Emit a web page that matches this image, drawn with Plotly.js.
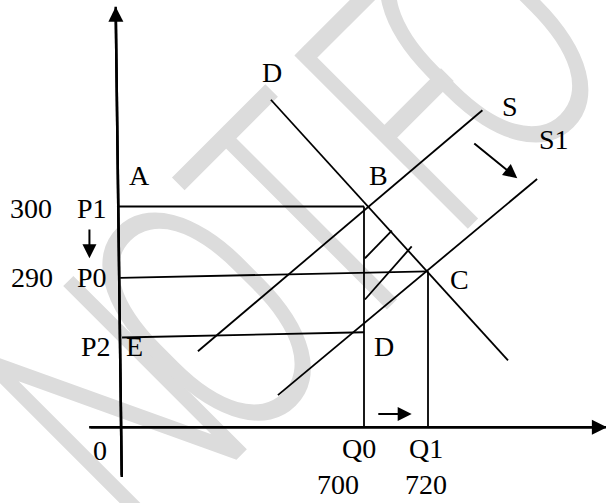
<!DOCTYPE html>
<html>
<head>
<meta charset="utf-8">
<script src="https://cdn.plot.ly/plotly-3.0.1.min.js"></script>
<style>
  html, body { margin: 0; padding: 0; background: #ffffff; }
  #chart { width: 606px; height: 503px; }
</style>
</head>
<body>
<div id="chart"></div>
<script>
// ---- Diagram data (quantity on x, price on y; axes are "not to scale") ----
const qValues = [700, 720];            // Q0, Q1
const qLabels = ['Q0', 'Q1'];
const pValues = [300, 290];            // P1, P0
const pLabels = ['300', '290'];

// Axis lines (broken origin)
const yAxisQ = [624.3, 622.4];
const yAxisP = [258.7, 330.5];
const xAxisQ = [614.1, 775.9];
const xAxisP = [266.3, 266.3];

// Demand and supply curves
const demandQ  = [670.9, 745.0];
const demandP  = [316.3, 276.5];
const supplyQ  = [648.1, 737.0];
const supplyP  = [277.9, 314.7];
const supply1Q = [673.1, 754.1];
const supply1P = [271.2, 304.2];

// Guide lines
const p1GuideQ = [622.8, 700];  const p1GuideP = [300, 300];
const p0GuideQ = [623.8, 720];  const p0GuideP = [289.1, 290.1];
const p2GuideQ = [624.4, 700];  const p2GuideP = [280.0, 280.8];
const q0GuideQ = [700, 700];    const q0GuideP = [300, 266.3];
const q1GuideQ = [720, 720];    const q1GuideP = [290.1, 266.3];

// Hatch strokes between demand and Q0
const hatch1Q = [700.3, 708.7]; const hatch1P = [292.1, 296.3];
const hatch2Q = [700.3, 714.9]; const hatch2P = [285.8, 293.9];

// Shift arrows (tail -> tip)
const priceArrowQ = [614.2, 614.2]; const priceArrowP = [296.7, 292.1];
const qtyArrowQ   = [704.0, 714.9]; const qtyArrowP   = [268.3, 268.3];
const shiftArrowQ = [734.0, 747.9]; const shiftArrowP = [309.8, 304.3];

// Text labels
const labelText = ['300','P1','290','P0','P2','E','0','A','D','B','S','S1','C','D','Q0','Q1','700','720'];
const labelQ    = [596.0, 614.9, 596.3, 615.0, 616.1, 628.3, 617.5, 629.7, 671.3, 704.4, 745.6, 759.4, 729.8, 706.3, 698.4, 719.5, 691.9, 719.4];
const labelP    = [299.7, 299.7, 289.2, 289.2, 278.6, 278.6, 262.7, 304.7, 320.5, 304.7, 315.3, 310.2, 288.9, 278.6, 263.1, 263.1, 257.6, 257.6];

// Background watermark letters (paper fractions of their centres)
const wmLetters = ['N', 'O', 'T', 'F', 'O'];
const wmX = [0.166, 0.317, 0.480, 0.659, 0.775];
const wmY = [0.218, 0.399, 0.596, 0.811, 0.952];

// ---- Build traces ----
function seg(q, p, w) {
  return { x: q, y: p, type: 'scatter', mode: 'lines',
           line: { color: '#000000', width: w }, hoverinfo: 'skip', showlegend: false,
           cliponaxis: false };
}
const traces = [
  seg(yAxisQ, yAxisP, 2.5),
  seg(xAxisQ, xAxisP, 2.5),
  seg(demandQ, demandP, 1.8),
  seg(supplyQ, supplyP, 1.8),
  seg(supply1Q, supply1P, 1.8),
  seg(p1GuideQ, p1GuideP, 1.8),
  seg(p0GuideQ, p0GuideP, 1.8),
  seg(p2GuideQ, p2GuideP, 1.8),
  seg(q0GuideQ, q0GuideP, 1.8),
  seg(q1GuideQ, q1GuideP, 1.8),
  seg(hatch1Q, hatch1P, 1.8),
  seg(hatch2Q, hatch2P, 1.8)
];

const serif = 'Liberation Serif, Times New Roman, serif';
const annotations = labelText.map((t, i) => ({
  x: labelQ[i], y: labelP[i], xref: 'x', yref: 'y', text: t, showarrow: false,
  xanchor: 'center', yanchor: 'middle',
  font: { family: serif, size: 28, color: '#000000' }
}));

function arrow(q, p, w, size) {
  return { x: q[1], y: p[1], ax: q[0], ay: p[0], xref: 'x', yref: 'y', axref: 'x', ayref: 'y',
           text: '', showarrow: true, arrowhead: 2, arrowwidth: w, arrowsize: size,
           arrowcolor: '#000000', standoff: 0, startstandoff: 0 };
}
annotations.push(arrow(yAxisQ, yAxisP, 2.5, 1.2));
annotations.push(arrow(xAxisQ, xAxisP, 2.5, 1.2));
annotations.push(arrow(priceArrowQ, priceArrowP, 2, 1.4));
annotations.push(arrow(qtyArrowQ, qtyArrowP, 2, 1.4));
annotations.push(arrow(shiftArrowQ, shiftArrowP, 2, 1.4));

const shapes = wmLetters.map((ch, i) => ({
  type: 'line', xref: 'paper', yref: 'paper', layer: 'below',
  x0: wmX[i] - 0.004, y0: wmY[i] - 0.005, x1: wmX[i] + 0.004, y1: wmY[i] + 0.005,
  line: { color: 'rgba(0,0,0,0)', width: 1 },
  label: { text: ch, textposition: 'middle', textangle: -45,
           xanchor: 'center', yanchor: 'middle', padding: 0,
           font: { family: 'Roboto, Lato, sans-serif', size: 345, color: '#dcdcdc', weight: 300 } }
}));

const layout = {
  width: 606, height: 503,
  margin: { l: 0, r: 0, t: 0, b: 0, pad: 0 },
  paper_bgcolor: '#ffffff', plot_bgcolor: '#ffffff',
  showlegend: false,
  xaxis: { range: [586.25, 775.625], visible: false, fixedrange: true },
  yaxis: { range: [254.73, 331.53], visible: false, fixedrange: true },
  annotations: annotations,
  shapes: shapes
};

Plotly.newPlot('chart', traces, layout, { staticPlot: true, displayModeBar: false }).then(gd => {
  // narrow the watermark glyphs (the original uses a condensed face)
  const k = 0.7;
  gd.querySelectorAll('.shape-label-text, .shape-label text').forEach(el => {
    const tr = el.getAttribute('transform') || '';
    const m = tr.match(/rotate\(\s*([^,\s)]+)[,\s]+([^,\s)]+)[,\s]+([^,\s)]+)\s*\)/);
    if (m && !el.dataset.narrowed) {
      const a = +m[1], cx = +m[2], cy = +m[3];
      el.setAttribute('transform',
        `rotate(${a},${cx},${cy}) translate(${cx},${cy}) scale(${k},1) translate(${-cx},${-cy})`);
      el.dataset.narrowed = '1';
    }
  });
});
</script>
</body>
</html>
